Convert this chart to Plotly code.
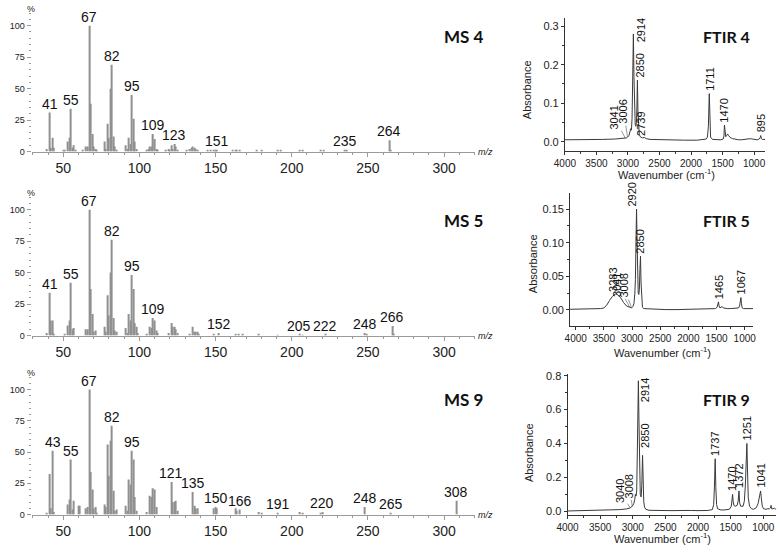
import plotly.graph_objects as go

W, H = 780, 552

# ---------------- DATA ----------------
# Mass spectra: (m/z, relative intensity %)
ms4 = [(39, 2), (41, 31), (42, 3), (43, 11), (44, 3), (50, 1), (51, 1), (53, 8), (54, 11), (55, 34),
       (56, 3), (57, 5), (58, 1), (63, 1), (65, 4), (66, 4), (67, 100), (68, 38), (69, 14), (70, 4),
       (71, 2), (72, 1), (77, 8), (78, 2), (79, 22), (80, 11), (81, 50), (82, 69), (83, 12), (84, 4),
       (85, 1), (91, 5), (92, 2), (93, 11), (94, 6), (95, 45), (96, 26), (97, 8), (98, 2), (105, 1),
       (106, 2), (107, 4), (108, 4), (109, 14), (110, 10), (111, 2), (112, 1), (117, 1), (119, 2),
       (120, 1), (121, 5), (122, 2), (123, 6), (124, 4), (125, 1), (131, 1), (133, 2), (134, 3),
       (135, 4), (136, 3), (137, 2), (138, 1), (145, 1), (147, 1), (149, 1), (150, 1), (151, 1.5),
       (161, 1), (163, 1), (164, 1), (166, 1), (177, 0.6), (180, 0.6), (191, 0.6), (193, 0.6),
       (205, 1), (207, 1), (219, 0.8), (221, 1.5), (235, 1.5), (236, 0.8), (264, 9), (265, 1.5)]
ms5 = [(39, 2), (41, 34), (42, 12), (43, 12), (44, 1), (51, 1), (53, 8), (54, 12), (55, 42), (56, 5),
       (57, 6), (65, 5), (66, 5), (67, 100), (68, 37), (69, 17), (70, 3), (71, 4), (77, 7), (78, 3),
       (79, 32), (80, 16), (81, 50), (82, 76), (83, 14), (84, 4), (85, 3), (91, 6), (92, 2), (93, 17),
       (94, 12), (95, 48), (96, 37), (97, 10), (98, 7), (99, 2), (105, 1), (107, 7), (108, 6), (109, 14),
       (110, 12), (111, 4), (112, 2), (119, 2), (121, 10), (122, 7), (123, 7), (124, 5), (125, 2),
       (133, 1), (135, 7), (136, 3), (137, 3), (138, 3), (139, 1), (149, 1), (152, 2), (163, 1),
       (165, 1), (168, 1), (178, 1.2), (191, 0.5), (205, 0.6), (207, 0.5), (222, 0.6), (248, 2),
       (249, 0.6), (266, 7.5), (267, 1.5)]
ms9 = [(39, 1), (41, 32.5), (42, 5), (43, 51), (44, 2), (53, 8), (54, 12), (55, 44), (56, 4), (57, 11),
       (60, 7), (61, 7), (65, 5), (66, 6), (67, 100), (68, 34), (69, 20), (70, 5), (71, 6), (72, 1),
       (77, 8), (78, 6), (79, 56), (80, 31), (81, 59), (82, 71), (83, 19), (84, 3), (85, 4), (91, 7),
       (92, 3), (93, 28), (94, 24), (95, 51), (96, 44), (97, 14), (98, 3), (105, 2), (107, 15),
       (108, 14), (109, 21), (110, 20), (111, 6), (121, 26), (122, 10), (123, 10), (124, 11), (125, 3),
       (135, 18), (136, 7), (137, 5), (138, 5), (149, 5), (150, 6), (151, 5), (163, 5), (164, 3),
       (166, 4), (178, 2), (180, 1.5), (191, 1), (205, 2), (207, 1.5), (219, 1.5), (220, 2), (248, 6),
       (265, 1.5), (308, 11)]

ms4_labels = [41, 55, 67, 82, 95, 109, 123, 151, 235, 264]
ms5_labels = [41, 55, 67, 82, 95, 109, 152, 205, 222, 248, 266]
ms9_labels = [43, 55, 67, 82, 95, 121, 135, 150, 166, 191, 220, 248, 265, 308]

ms_ticks_y = [0, 25, 50, 75, 100]

# FTIR spectra: (wavenumber cm-1, absorbance)
ftir4 = [(4000, 0.005), (3800, 0.005), (3600, 0.006), (3400, 0.006), (3200, 0.007), (3100, 0.008),
         (3041, 0.009), (3020, 0.010), (3006, 0.012), (2985, 0.016), (2965, 0.028), (2955, 0.034),
         (2945, 0.030), (2935, 0.06), (2925, 0.16), (2914, 0.280), (2905, 0.17), (2895, 0.07),
         (2885, 0.045), (2875, 0.04), (2865, 0.05), (2858, 0.09), (2850, 0.160), (2842, 0.08),
         (2832, 0.035), (2820, 0.018), (2800, 0.012), (2770, 0.010), (2739, 0.011), (2710, 0.008),
         (2650, 0.006), (2500, 0.005), (2300, 0.004), (2100, 0.004), (1900, 0.004), (1800, 0.005),
         (1760, 0.007), (1740, 0.012), (1725, 0.04), (1711, 0.125), (1700, 0.04), (1690, 0.012),
         (1660, 0.006), (1600, 0.005), (1530, 0.005), (1490, 0.007), (1478, 0.015), (1470, 0.043),
         (1462, 0.02), (1450, 0.013), (1435, 0.016), (1420, 0.020), (1405, 0.016), (1380, 0.011),
         (1340, 0.008), (1300, 0.006), (1250, 0.005), (1200, 0.005), (1150, 0.006), (1120, 0.008),
         (1090, 0.009), (1060, 0.008), (1030, 0.007), (990, 0.006), (950, 0.005), (920, 0.007),
         (905, 0.010), (895, 0.016), (885, 0.008), (870, 0.006), (840, 0.006), (824, 0.006)]
ftir5 = [(4100, 0.001), (3900, 0.001), (3700, 0.0015), (3560, 0.002), (3500, 0.003), (3450, 0.007),
         (3400, 0.014), (3350, 0.020), (3300, 0.0235), (3283, 0.024), (3250, 0.022), (3200, 0.018),
         (3150, 0.011), (3100, 0.006), (3041, 0.004), (3008, 0.003), (2985, 0.005), (2965, 0.010),
         (2950, 0.025), (2940, 0.045), (2930, 0.10), (2920, 0.150), (2910, 0.10), (2900, 0.035),
         (2890, 0.025), (2880, 0.023), (2870, 0.03), (2860, 0.06), (2850, 0.080), (2840, 0.04),
         (2830, 0.012), (2815, 0.004), (2790, 0.002), (2600, 0.001), (2400, 0.0005), (2200, 0.0005),
         (2000, 0.001), (1800, 0.001), (1600, 0.001), (1520, 0.002), (1490, 0.004), (1475, 0.009),
         (1465, 0.012), (1455, 0.006), (1440, 0.003), (1420, 0.004), (1400, 0.005), (1380, 0.003),
         (1340, 0.002), (1300, 0.002), (1250, 0.002), (1200, 0.002), (1150, 0.002), (1110, 0.003),
         (1090, 0.006), (1075, 0.014), (1067, 0.0185), (1058, 0.010), (1045, 0.003), (1020, 0.002),
         (980, 0.002), (950, 0.001), (900, 0.002), (870, 0.001), (850, 0.002)]
ftir9 = [(4000, 0.002), (3800, 0.003), (3600, 0.006), (3400, 0.008), (3200, 0.010), (3100, 0.014),
         (3040, 0.020), (3008, 0.030), (2985, 0.045), (2970, 0.07), (2960, 0.10), (2950, 0.09),
         (2940, 0.12), (2930, 0.35), (2922, 0.65), (2914, 0.770), (2906, 0.55), (2895, 0.20),
         (2885, 0.10), (2872, 0.085), (2862, 0.15), (2850, 0.330), (2842, 0.18), (2832, 0.06),
         (2820, 0.025), (2800, 0.012), (2750, 0.006), (2600, 0.004), (2400, 0.004), (2200, 0.005),
         (2130, 0.008), (2100, 0.005), (2000, 0.004), (1850, 0.005), (1780, 0.010), (1760, 0.04),
         (1748, 0.15), (1737, 0.310), (1727, 0.14), (1715, 0.04), (1700, 0.015), (1650, 0.008),
         (1600, 0.008), (1520, 0.012), (1490, 0.03), (1478, 0.07), (1470, 0.100), (1462, 0.06),
         (1450, 0.035), (1430, 0.030), (1400, 0.035), (1385, 0.06), (1372, 0.120), (1362, 0.05),
         (1345, 0.03), (1310, 0.03), (1290, 0.06), (1275, 0.15), (1262, 0.32), (1251, 0.400),
         (1242, 0.25), (1230, 0.08), (1210, 0.03), (1180, 0.015), (1150, 0.012), (1110, 0.02),
         (1080, 0.045), (1060, 0.09), (1041, 0.120), (1030, 0.08), (1015, 0.03), (995, 0.015),
         (960, 0.012), (930, 0.015), (905, 0.015), (890, 0.02), (880, 0.035), (872, 0.015),
         (850, 0.015), (830, 0.02), (810, 0.012), (800, 0.015)]

ftir4_labels = [2914, 2850, 2739, 1711, 1470, 895]
ftir5_labels = [3283, 2920, 2850, 1465, 1067]
ftir9_labels = [2914, 2850, 1737, 1470, 1372, 1251, 1041]
ftir4_leader = [3041, 3006]
ftir5_leader = [3041, 3008]
ftir9_leader = [3040, 3008]

ftir4_yticks = [0.0, 0.1, 0.2, 0.3]
ftir5_yticks = [0.00, 0.05, 0.10, 0.15]
ftir9_yticks = [0.0, 0.2, 0.4, 0.6, 0.8]
ftir_xticks = [4000, 3500, 3000, 2500, 2000, 1500, 1000]

# ---------------- LAYOUT HELPERS ----------------
def fx(px):
    return px / W

def fy(py):
    return 1 - py / H

FONT = "Liberation Sans, Arial, sans-serif"
TITLE_FONT = "Lato, Open Sans, sans-serif"

fig = go.Figure()
ann = []
layout = {}

# ---------- MS panels ----------
ms_panels = [
    (ms4, ms4_labels, "MS 4", 8, 150, 33),
    (ms5, ms5_labels, "MS 5", 195, 337, 220),
    (ms9, ms9_labels, "MS 9", 378, 519, 402),
]
for i, (data, labels, title, top_px, bot_px, title_y) in enumerate(ms_panels):
    n = i + 1
    xa = "x" if n == 1 else f"x{n}"
    ya = "y" if n == 1 else f"y{n}"
    xk = "xaxis" if n == 1 else f"xaxis{n}"
    yk = "yaxis" if n == 1 else f"yaxis{n}"
    mz = [p[0] for p in data]
    it = [p[1] for p in data]
    fig.add_trace(go.Bar(x=mz, y=it, width=0.75, marker=dict(color="#909090", line_width=0),
                         xaxis=xa, yaxis=ya, hoverinfo="skip"))
    layout[xk] = dict(domain=[fx(21), fx(472)], range=[29.2, 320], anchor=ya,
                      showline=True, linecolor="#9a9a9a", linewidth=1,
                      ticks="outside", ticklen=4, tickcolor="#9a9a9a", tick0=0, dtick=50,
                      minor=dict(dtick=10, ticks="outside", ticklen=2, tickcolor="#9a9a9a"),
                      showgrid=False, zeroline=False,
                      tickfont=dict(family=FONT, size=14, color="#222"))
    layout[yk] = dict(domain=[fy(bot_px), fy(top_px)], range=[0, 111], anchor=xa,
                      showline=False, ticks="outside", ticklen=4, tickcolor="#9a9a9a",
                      tickvals=ms_ticks_y,
                      minor=dict(dtick=5, ticks="outside", ticklen=2, tickcolor="#9a9a9a"),
                      showgrid=False, zeroline=False,
                      tickfont=dict(family=FONT, size=9, color="#222"))
    d = dict(data)
    for m in labels:
        ann.append(dict(x=m, y=d[m], xref=xa, yref=ya, text=str(m), showarrow=False,
                        xanchor="center", yanchor="bottom", yshift=-1,
                        font=dict(family=FONT, size=14, color="#111")))
    ann.append(dict(x=fx(439), y=fy(title_y), xref="paper", yref="paper", text=f"<b>{title}</b>",
                    showarrow=False, xanchor="left", yanchor="middle",
                    font=dict(family=TITLE_FONT, size=17, color="#111")))
    ann.append(dict(x=fx(20), y=fy(top_px - 3), xref="paper", yref="paper", text="%",
                    showarrow=False, xanchor="center", yanchor="middle",
                    font=dict(family=FONT, size=9, color="#222")))
    ann.append(dict(x=fx(474), y=fy(bot_px), xref="paper", yref="paper", text="<i>m/z</i>",
                    showarrow=False, xanchor="left", yanchor="middle",
                    font=dict(family=FONT, size=9, color="#222")))

# ---------- FTIR panels ----------
ftir_panels = [
    dict(data=ftir4, labels=ftir4_labels, leaders=ftir4_leader, title="FTIR 4", yticks=ftir4_yticks,
         fmt=".1f", xdom=(564, 768), ydom=(14, 149), xr=[4000, 824], yr=[-0.023, 0.322],
         title_y=33, ylab=(525, 87), xlab=(667, 173),
         shifts={2914: (8, 4, "middle"), 2850: (3, 1, "bottom"), 2739: (-3, 0, "bottom")},
         lead_off={3041: (-11, -21), 3006: (-4, -25)}),
    dict(data=ftir5, labels=ftir5_labels, leaders=ftir5_leader, title="FTIR 5", yticks=ftir5_yticks,
         fmt=".2f", xdom=(569.3, 755.7), ydom=(191.7, 327.7), xr=[4100, 850], yr=[-0.0244, 0.1745],
         title_y=220, ylab=(531, 264), xlab=(663, 354),
         shifts={3283: (-3, 0, "bottom"), 2920: (-4, 0, "bottom")},
         lead_off={3041: (-12, -22), 3008: (-8, -22)}),
    dict(data=ftir9, labels=ftir9_labels, leaders=ftir9_leader, title="FTIR 9", yticks=ftir9_yticks,
         fmt=".1f", xdom=(566.7, 779.3), ydom=(375.7, 519), xr=[4000, 800], yr=[-0.019, 0.8125],
         title_y=402, ylab=(527, 456), xlab=(663, 543),
         shifts={2914: (6, -9, "middle"), 2850: (3, 5, "bottom")},
         lead_off={3040: (-10, -17), 3008: (-3, -20)}),
]
for j, p in enumerate(ftir_panels):
    n = j + 4
    xa, ya = f"x{n}", f"y{n}"
    xk, yk = f"xaxis{n}", f"yaxis{n}"
    wn = [q[0] for q in p["data"]]
    ab = [q[1] for q in p["data"]]
    fig.add_trace(go.Scatter(x=wn, y=ab, mode="lines", line=dict(color="#3a3a3a", width=1),
                             xaxis=xa, yaxis=ya, hoverinfo="skip"))
    layout[xk] = dict(domain=[fx(p["xdom"][0]), fx(p["xdom"][1])], range=p["xr"], anchor=ya,
                      showline=True, linecolor="#333", linewidth=1, mirror=False,
                      ticks="outside", ticklen=3, tickcolor="#333", tickvals=ftir_xticks,
                      minor=dict(dtick=250, ticks="outside", ticklen=2, tickcolor="#333"),
                      showgrid=False, zeroline=False,
                      tickfont=dict(family=FONT, size=10, color="#222"))
    ystep = p["yticks"][1] - p["yticks"][0]
    layout[yk] = dict(domain=[fy(p["ydom"][1]), fy(p["ydom"][0])], range=p["yr"], anchor=xa,
                      showline=True, linecolor="#333", linewidth=1, mirror=False,
                      ticks="outside", ticklen=3, tickcolor="#333", tickvals=p["yticks"],
                      tickformat=p["fmt"],
                      minor=dict(dtick=ystep / 2, ticks="outside", ticklen=2, tickcolor="#333"),
                      showgrid=False, zeroline=False,
                      tickfont=dict(family=FONT, size=11, color="#222"))
    d = dict(p["data"])
    for w in p["labels"]:
        xs, ys, ya_anchor = p["shifts"].get(w, (0, 1, "bottom"))
        ann.append(dict(x=w, y=d[w], xref=xa, yref=ya, text=str(w), showarrow=False,
                        textangle=-90, xanchor="center", yanchor=ya_anchor,
                        xshift=xs, yshift=ys,
                        font=dict(family=FONT, size=11, color="#111")))
    for w in p["leaders"]:
        axo, ayo = p["lead_off"][w]
        ann.append(dict(x=w, y=d[w], xref=xa, yref=ya, text=str(w), showarrow=True,
                        arrowhead=0, arrowwidth=0.6, arrowcolor="#555", standoff=0,
                        ax=axo, ay=ayo, textangle=-90,
                        font=dict(family=FONT, size=11, color="#111")))
    ann.append(dict(x=fx(703), y=fy(p["title_y"]), xref="paper", yref="paper",
                    text=f"<b>{p['title']}</b>", showarrow=False, xanchor="left", yanchor="middle",
                    font=dict(family=TITLE_FONT, size=16, color="#111")))
    ann.append(dict(x=fx(p["ylab"][0]), y=fy(p["ylab"][1]), xref="paper", yref="paper",
                    text="Absorbance", showarrow=False, textangle=-90,
                    xanchor="center", yanchor="middle",
                    font=dict(family=FONT, size=11, color="#222")))
    ann.append(dict(x=fx(p["xlab"][0]), y=fy(p["xlab"][1]), xref="paper", yref="paper",
                    text="Wavenumber (cm<sup>-1</sup>)", showarrow=False,
                    xanchor="center", yanchor="middle",
                    font=dict(family=FONT, size=11, color="#222")))

fig.update_layout(width=W, height=H, margin=dict(l=0, r=0, t=0, b=0),
                  paper_bgcolor="white", plot_bgcolor="white", showlegend=False,
                  annotations=ann, **layout)
fig.write_html("out.html")
